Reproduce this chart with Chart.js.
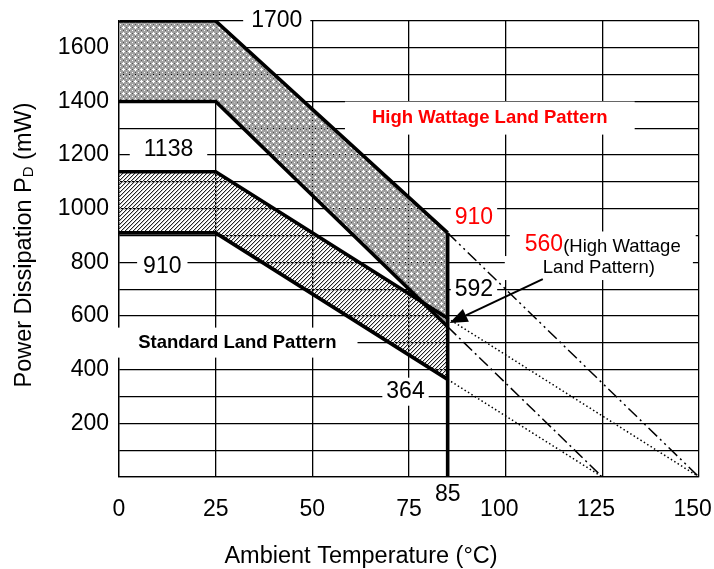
<!DOCTYPE html>
<html>
<head>
<meta charset="utf-8">
<script src="https://cdn.jsdelivr.net/npm/chart.js@4.4.1/dist/chart.umd.min.js"></script>
<style>
  html, body { margin: 0; padding: 0; background: #fff; }
  #wrap { width: 714px; height: 569px; }
</style>
</head>
<body>
<div id="wrap"><canvas id="graficoDerating" width="714" height="569"></canvas></div>
<script>
const FONT = "'Liberation Sans', Arial, sans-serif";

// break points of the derating curves (°C)
const tempPoints = [0, 25, 85];
const hwUpper = [1700, 1700, 910];
const hwLower = [1400, 1400, 560];
const stdUpper = [1138, 1138, 592];
const stdLower = [910, 910, 364];
const cutoffTemp = 85;
// temperature where each extension line reaches 0 mW
const hwUpperZero = 150;
const hwLowerZero = 125;
const stdUpperZero = 150;
const stdLowerZero = 125;

const yLabelValues = [200, 400, 600, 800, 1000, 1200, 1400, 1600];

const pts = (xs, ys) => xs.map((x, i) => ({ x: x, y: ys[i] }));
const lastOf = arr => arr[arr.length - 1];
const extension = (ys, zeroAt) => [{ x: cutoffTemp, y: lastOf(ys) }, { x: zeroAt, y: 0 }];

// fill patterns
function makeCrossHatch(ctx) {
  const c = document.createElement('canvas');
  c.width = 6; c.height = 6;
  const g = c.getContext('2d');
  g.fillStyle = '#a2a2a2';
  g.fillRect(0, 0, 6, 6);
  g.clearRect(3, 2, 1, 3);
  g.clearRect(2, 3, 3, 1);
  g.clearRect(0, 0, 1, 1);
  g.fillStyle = '#555';
  g.fillRect(0, 3, 1, 1);
  g.fillRect(3, 0, 1, 1);
  return ctx.createPattern(c, 'repeat');
}

function makeDiagHatch(ctx) {
  const c = document.createElement('canvas');
  c.width = 4; c.height = 4;
  const g = c.getContext('2d');
  for (let i = 0; i < 4; i++) {
    g.fillStyle = '#222';
    g.fillRect(i, 3 - i, 1, 1);
    g.fillStyle = '#c4c4c4';
    g.fillRect(i, (4 - i) % 4, 1, 1);
  }
  return ctx.createPattern(c, 'repeat');
}

const font = (size, bold) => (bold ? 'bold ' : '') + size + 'px ' + FONT;

// value labels on white boxes (data coordinates)
const notes = [
  { x: 40.8, y: 1700, padX: 8, parts: [{ text: '1700' }] },
  { x: 12.8, y: 1219, padX: 14, parts: [{ text: '1138' }] },
  { x: 11.2, y: 784, padX: 6, parts: [{ text: '910' }] },
  { x: 30.6, y: 501, padX: 21, h: 30, parts: [{ text: 'Standard Land Pattern', size: 18.5, bold: true }] },
  { x: 74.1, y: 318, padX: 4, parts: [{ text: '364' }] },
  { x: 91.8, y: 697, padX: 4, parts: [{ text: '592' }] },
  { x: 91.8, y: 966, padX: 4, parts: [{ text: '910', color: '#ff0000' }] },
  { x: 95.9, y: 1338, padX: 27, h: 33, parts: [{ text: 'High Wattage Land Pattern', size: 18.5, bold: true, color: '#ff0000' }] },
  { x: 125.1, y: 865, padX: 15, h: 27, parts: [{ text: '560', color: '#ff0000' }, { text: '(High Wattage', size: 18.5, dy: 1.6 }] },
  { x: 124.1, y: 779, padX: 38, h: 24, parts: [{ text: 'Land Pattern)', size: 18.5 }] }
];

const arrowFrom = { x: 109.6, y: 738 };
const arrowTo = { x: 85.5, y: 574 };

const notesPlugin = {
  id: 'notes',
  beforeDatasetsDraw(chart) {
    const { ctx, scales: { x, y } } = chart;
    ctx.save();
    ctx.textBaseline = 'middle';
    ctx.textAlign = 'left';
    notes.forEach(n => {
      const parts = n.parts.map(p => Object.assign({}, p, { font: font(p.size || 23, p.bold) }));
      let w = 0;
      parts.forEach(p => { ctx.font = p.font; p.w = ctx.measureText(p.text).width; w += p.w; });
      const cx = x.getPixelForValue(n.x);
      const cy = y.getPixelForValue(n.y);
      const h = n.h || 28;
      ctx.fillStyle = '#fff';
      ctx.fillRect(cx - w / 2 - n.padX, cy - h / 2, w + 2 * n.padX, h);
      let tx = cx - w / 2;
      parts.forEach(p => {
        ctx.font = p.font;
        ctx.fillStyle = p.color || '#000';
        ctx.fillText(p.text, tx, cy + (p.dy || 0));
        tx += p.w;
      });
    });
    ctx.restore();
  },
  afterDatasetsDraw(chart) {
    const { ctx, scales: { x, y } } = chart;
    const x1 = x.getPixelForValue(arrowFrom.x), y1 = y.getPixelForValue(arrowFrom.y);
    const x2 = x.getPixelForValue(arrowTo.x), y2 = y.getPixelForValue(arrowTo.y);
    const a = Math.atan2(y2 - y1, x2 - x1);
    const len = 18, half = 7;
    const bx = x2 - len * Math.cos(a), by = y2 - len * Math.sin(a);
    ctx.save();
    ctx.strokeStyle = '#000';
    ctx.lineWidth = 2;
    ctx.beginPath();
    ctx.moveTo(x1, y1);
    ctx.lineTo(bx, by);
    ctx.stroke();
    ctx.fillStyle = '#000';
    ctx.beginPath();
    ctx.moveTo(x2, y2);
    ctx.lineTo(bx + half * Math.sin(a), by - half * Math.cos(a));
    ctx.lineTo(bx - half * Math.sin(a), by + half * Math.cos(a));
    ctx.closePath();
    ctx.fill();
    ctx.restore();
  },
  afterDraw(chart) {
    const { ctx, chartArea, scales: { x } } = chart;
    ctx.save();
    ctx.fillStyle = '#000';
    ctx.textBaseline = 'middle';
    ctx.textAlign = 'center';
    // extra tick for the cut-off temperature
    ctx.font = font(23);
    ctx.fillText(String(cutoffTemp), x.getPixelForValue(cutoffTemp), chartArea.bottom + 18);

    // x title
    ctx.font = font(23.5);
    ctx.fillText('Ambient Temperature (°C)', 361, 557);

    // y title with subscript D
    ctx.translate(22, 245);
    ctx.rotate(-Math.PI / 2);
    const big = font(23.5), small = font(15);
    const segs = [['Power Dissipation P', big, 0], ['D', small, 2], [' (mW)', big, 0]];
    let w = 0;
    segs.forEach(s => { ctx.font = s[1]; w += ctx.measureText(s[0]).width; });
    let tx = -w / 2;
    ctx.textAlign = 'left';
    ctx.textBaseline = 'alphabetic';
    segs.forEach(s => {
      ctx.font = s[1];
      ctx.fillText(s[0], tx, 8.5 + s[2]);
      tx += ctx.measureText(s[0]).width;
    });
    ctx.restore();
  }
};

const ctx = document.getElementById('graficoDerating').getContext('2d');
const crossHatch = makeCrossHatch(ctx);
const diagHatch = makeDiagHatch(ctx);

const solid = { borderColor: '#000', borderWidth: 3.6, fill: false };
const thin = { borderColor: '#000', borderWidth: 1.5, fill: false };

new Chart(ctx, {
  type: 'line',
  data: {
    datasets: [
      Object.assign({ label: 'High Wattage upper', data: pts(tempPoints, hwUpper) }, solid, { fill: '+1', backgroundColor: crossHatch }),
      Object.assign({ label: 'High Wattage lower', data: pts(tempPoints, hwLower) }, solid),
      Object.assign({ label: 'Standard upper', data: pts(tempPoints, stdUpper) }, solid, { fill: '+1', backgroundColor: diagHatch }),
      Object.assign({ label: 'Standard lower', data: pts(tempPoints, stdLower) }, solid),
      Object.assign({ label: 'Cut-off', data: [{ x: cutoffTemp, y: lastOf(hwUpper) }, { x: cutoffTemp, y: 0 }] }, solid),
      Object.assign({ label: 'HW upper ext', data: extension(hwUpper, hwUpperZero) }, thin, { borderDash: [12, 4, 2, 4, 2, 4] }),
      Object.assign({ label: 'HW lower ext', data: extension(hwLower, hwLowerZero) }, thin, { borderDash: [12, 4, 2, 4] }),
      Object.assign({ label: 'Std upper ext', data: extension(stdUpper, stdUpperZero) }, thin, { borderDash: [1.5, 2.5] }),
      Object.assign({ label: 'Std lower ext', data: extension(stdLower, stdLowerZero) }, thin, { borderDash: [1.5, 2.5] })
    ]
  },
  options: {
    responsive: false,
    animation: false,
    layout: { padding: { top: 21, right: 15, left: 0, bottom: 0 } },
    elements: {
      point: { radius: 0 },
      line: { tension: 0, borderCapStyle: 'butt', borderJoinStyle: 'miter' }
    },
    plugins: {
      legend: { display: false },
      tooltip: { enabled: false },
      filler: { drawTime: 'beforeDatasetsDraw' }
    },
    scales: {
      x: {
        type: 'linear',
        min: 0,
        max: 150,
        ticks: {
          stepSize: 25,
          autoSkip: false,
          maxRotation: 0,
          padding: 19,
          color: '#000',
          font: { family: FONT, size: 23 },
          // three-digit labels sit a little left of their grid line in the original
          callback: v => (v >= 100 ? v + '  ' : String(v))
        },
        grid: { color: '#000', lineWidth: 1.3, drawTicks: false },
        border: { color: '#000', width: 1.3 },
        afterFit(s) { s.height = 92; s.paddingLeft = 0; s.paddingRight = 0; }
      },
      y: {
        min: 0,
        max: 1700,
        ticks: {
          stepSize: 100,
          autoSkip: false,
          padding: 10,
          color: '#000',
          font: { family: FONT, size: 23 },
          callback: v => (yLabelValues.includes(v) ? String(v) : '')
        },
        grid: { color: '#000', lineWidth: 1.3, drawTicks: false },
        border: { color: '#000', width: 1.3 },
        afterFit(s) { s.width = 119; s.paddingTop = 0; s.paddingBottom = 0; }
      }
    }
  },
  plugins: [notesPlugin]
});
</script>
</body>
</html>
